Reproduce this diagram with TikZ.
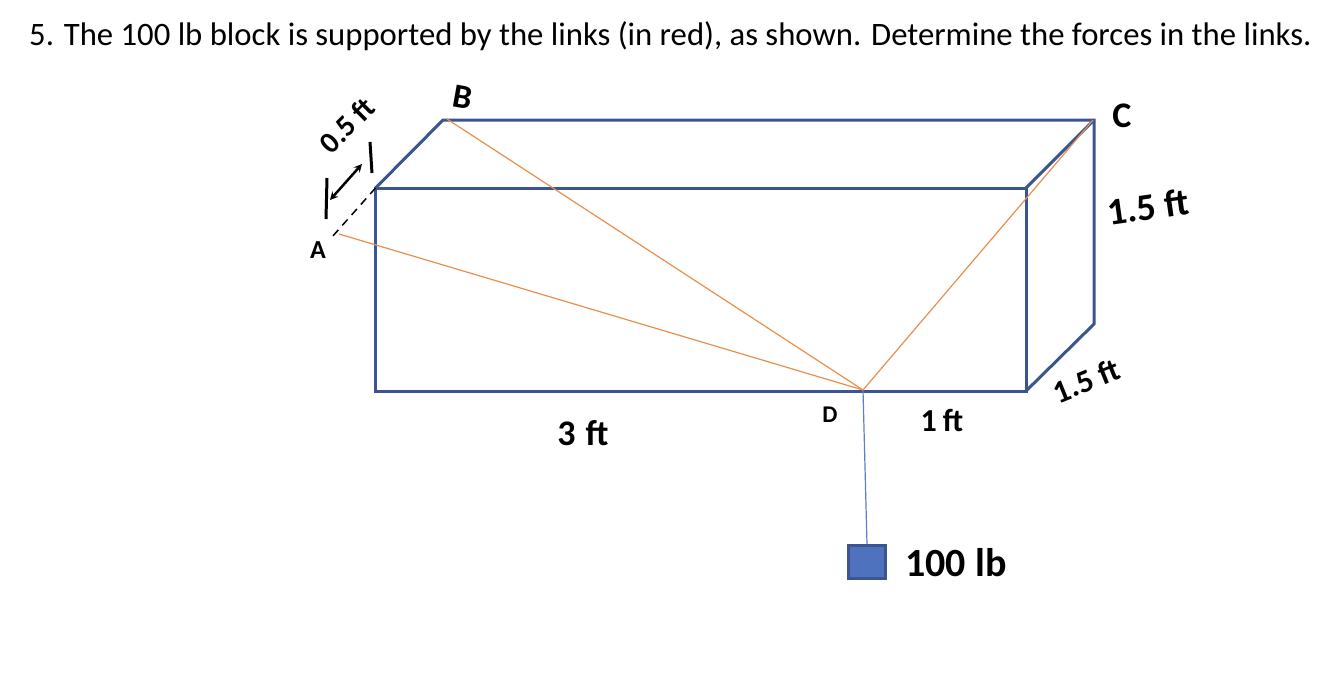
\documentclass[tikz,border=0pt]{standalone}
\usepackage{fontspec}
\setmainfont{Carlito}
\definecolor{framecol}{HTML}{3B5591}
\definecolor{linkcol}{HTML}{E98E4E}
\definecolor{weightcol}{HTML}{4F72BE}
\definecolor{hangcol}{HTML}{5B7FC8}
\begin{document}
\begin{tikzpicture}[x=1pt,y=-1pt]
        \tikzstyle{frame}=[draw=framecol,line width=3pt,line join=miter]
        \tikzstyle{link}=[draw=linkcol,line width=1.2pt]
        \tikzstyle{hand}=[inner sep=0pt]
        \useasboundingbox (0,0) rectangle (1336,699);
        \node[anchor=base west,inner sep=0pt,font=\fontsize{32.7}{34}\selectfont] (title) at (29,45)
        {5. The 100 lb block is supported by the links (in red), as shown. Determine the forces in the links.};
        % corners of the box
        \coordinate (ftl) at (375.5,188);
        \coordinate (ftr) at (1026,188);
        \coordinate (fbl) at (375.5,391);
        \coordinate (fbr) at (1026,391);
        \coordinate (btl) at (443,120);
        \coordinate (btr) at (1094,120);
        \coordinate (bbr) at (1094,324);
        % points of the links
        \coordinate (A) at (339,234);
        \coordinate (B) at (447,119);
        \coordinate (C) at (1093,120);
        \coordinate (D) at (863,390);
        \coordinate (dashend) at (332,237);
        \draw[frame] (ftl) rectangle (fbr);
        \draw[frame] (ftl) -- (btl) -- (btr) -- (bbr) -- (fbr);
        \draw[frame] (ftr) -- (btr);
        \draw[black,line width=1.5pt,dash pattern=on 8pt off 6pt] (ftl) -- (dashend);
        \draw[link] (A) -- (D);
        \draw[link] (B) -- (D);
        \draw[link] (C) -- (D);
        % weight
        \node[draw=framecol,fill=weightcol,line width=2.5pt,minimum width=37pt,minimum height=33pt,inner sep=0pt] (weight) at (867,562) {};
        \draw[hangcol,line width=1.2pt] (D) -- (weight.north);
        % dimension marks
        \coordinate (tickaa) at (327,178);
        \coordinate (tickab) at (326,219);
        \coordinate (tickba) at (370,142);
        \coordinate (tickbb) at (372,173);
        \coordinate (arrowa) at (330,200);
        \coordinate (arrowb) at (362,164);
        \draw[black,line width=3pt] (tickaa) -- (tickab);
        \draw[black,line width=3pt] (tickba) -- (tickbb);
        \draw[black,line width=2.5pt,<->,>=stealth] (arrowa) -- (arrowb);
        % labels
        \node[hand,rotate=45,font=\bfseries\fontsize{30}{30}\selectfont] (lblhalf) at (347,125) {0.5 ft};
        \node[hand,font=\bfseries\fontsize{26}{26}\selectfont] (lblA) at (318,250) {A};
        \node[hand,rotate=-10,font=\bfseries\fontsize{34}{34}\selectfont] (lblB) at (463,97) {B};
        \node[hand,font=\bfseries\fontsize{36}{36}\selectfont] (lblC) at (1122,116) {C};
        \node[hand,rotate=8,font=\bfseries\fontsize{38}{38}\selectfont] (lblh) at (1148,207) {1.5 ft};
        \node[hand,rotate=22,font=\bfseries\fontsize{32}{32}\selectfont] (lbld) at (1086,381) {1.5 ft};
        \node[hand,font=\bfseries\fontsize{36}{36}\selectfont] (lbll) at (583,433) {3\hspace{10pt}ft};
        \node[hand,font=\bfseries\fontsize{24}{24}\selectfont] (lblD) at (830,415) {D};
        \node[hand,font=\bfseries\fontsize{32}{32}\selectfont] (lblr) at (942,420) {1\hspace{6pt}ft};
        \node[hand,font=\bfseries\fontsize{40}{40}\selectfont] (lblw) at (956,563) {100 lb};
    ;\end{tikzpicture}
\end{document}
